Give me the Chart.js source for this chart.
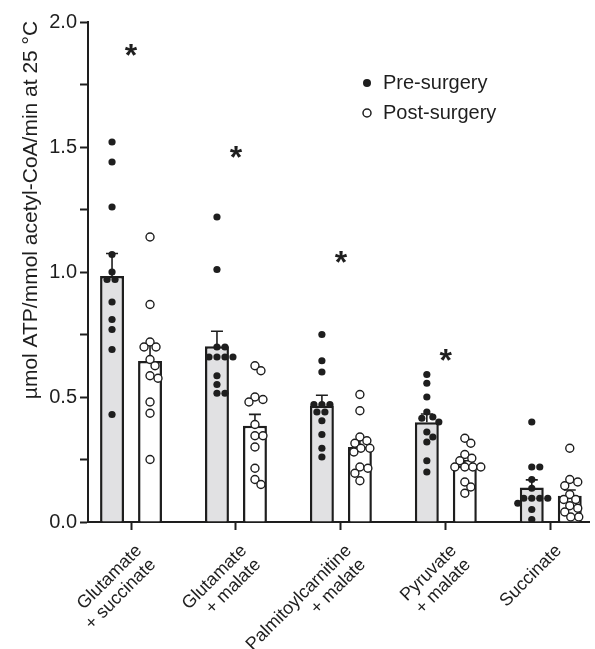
<!DOCTYPE html>
<html>
<head>
<meta charset="utf-8">
<script src="https://cdn.jsdelivr.net/npm/chart.js@4"></script>
<style>
  html, body { margin: 0; padding: 0; background: #fff; }
  #wrap { width: 595px; height: 649px; }
</style>
</head>
<body>
<div id="wrap"><canvas id="atpChart" width="595" height="649"></canvas></div>
<script>
const substrates = [
  ["Glutamate", "+ succinate"],
  ["Glutamate", "+ malate"],
  ["Palmitoylcarnitine", "+ malate"],
  ["Pyruvate", "+ malate"],
  ["Succinate"],
];
// individual subjects, one array per substrate
const preSurgery = [
  [1.52, 1.44, 1.26, 1.07, 1.00, 0.97, 0.97, 0.88, 0.81, 0.77, 0.69, 0.43],
  [1.22, 1.01, 0.70, 0.70, 0.66, 0.66, 0.66, 0.66, 0.585, 0.55, 0.515, 0.515],
  [0.75, 0.645, 0.60, 0.47, 0.47, 0.47, 0.44, 0.44, 0.405, 0.35, 0.295, 0.26],
  [0.59, 0.555, 0.50, 0.44, 0.42, 0.415, 0.40, 0.36, 0.34, 0.32, 0.245, 0.20],
  [0.40, 0.22, 0.22, 0.17, 0.135, 0.095, 0.095, 0.095, 0.095, 0.075, 0.05, 0.01],
];
const postSurgery = [
  [1.14, 0.87, 0.72, 0.70, 0.70, 0.65, 0.625, 0.585, 0.575, 0.48, 0.435, 0.25],
  [0.625, 0.605, 0.50, 0.49, 0.48, 0.39, 0.345, 0.345, 0.30, 0.215, 0.17, 0.15],
  [0.51, 0.445, 0.34, 0.325, 0.315, 0.295, 0.295, 0.28, 0.22, 0.215, 0.195, 0.165],
  [0.335, 0.315, 0.27, 0.255, 0.245, 0.22, 0.22, 0.22, 0.22, 0.16, 0.14, 0.115],
  [0.295, 0.17, 0.16, 0.145, 0.11, 0.09, 0.09, 0.065, 0.055, 0.04, 0.02, 0.02],
];
const starHeights = [1.89, 1.48, 1.06, 0.67, null];
const yTickValues = [0, 0.25, 0.5, 0.75, 1.0, 1.25, 1.5, 1.75, 2.0];
const yTickLabels = ["0.0", "", "0.5", "", "1.0", "", "1.5", "", "2.0"];
const yTitle = "\u00b5mol ATP/mmol acetyl-CoA/min at 25 \u00b0C";

const FONT = "'Liberation Sans', Arial, sans-serif";
const INK = "#1e1e1e";
const catPct = 0.724;
const barPct = 0.63;

function mean(a) {
  return a.reduce((s, v) => s + v, 0) / a.length;
}
function sem(a) {
  const m = mean(a);
  const sd = Math.sqrt(a.reduce((s, v) => s + (v - m) * (v - m), 0) / (a.length - 1));
  return sd / Math.sqrt(a.length);
}

// simple beeswarm: push each dot sideways until it stops overlapping
// (approx. 105 px per category and 250 px per y unit in this layout)
const PX_X = 105;
const PX_Y = 250;
const DOT = 7.8;
function swarm(values, center) {
  const placed = [];
  [...values].sort((a, b) => b - a).forEach((v) => {
    for (let k = 0; k < 80; k++) {
      const off = k === 0 ? 0 : (k % 2 ? 1 : -1) * Math.ceil(k / 2);
      const free = placed.every((p) => Math.hypot(p.dx - off, (p.v - v) * PX_Y) >= DOT);
      if (free) {
        placed.push({ dx: off, v });
        break;
      }
    }
  });
  return placed.map((p) => ({ x: center + p.dx / PX_X, y: p.v }));
}

const side = catPct / 4;
const prePoints = [];
const postPoints = [];
preSurgery.forEach((g, i) => prePoints.push(...swarm(g, i - side)));
postSurgery.forEach((g, i) => postPoints.push(...swarm(g, i + side)));

const preBars = preSurgery.map((g, i) => ({ x: i, y: mean(g) }));
const postBars = postSurgery.map((g, i) => ({ x: i, y: mean(g) }));
const preErr = preSurgery.map(sem);
const postErr = postSurgery.map(sem);

const extrasPlugin = {
  id: "extras",
  afterDatasetDraw(chart, args) {
    const ds = chart.data.datasets[args.index];
    if (!ds.errors) return;
    const ctx = chart.ctx;
    const ys = chart.scales.y;
    ctx.save();
    ctx.strokeStyle = INK;
    ctx.lineWidth = 1.6;
    args.meta.data.forEach((el, i) => {
      const top = ys.getPixelForValue(ds.data[i].y + ds.errors[i]);
      ctx.beginPath();
      ctx.moveTo(el.x, el.y);
      ctx.lineTo(el.x, top);
      ctx.moveTo(el.x - 6, top);
      ctx.lineTo(el.x + 6, top);
      ctx.stroke();
    });
    ctx.restore();
  },
  afterDraw(chart) {
    const ctx = chart.ctx;
    const xs = chart.scales.x;
    const ys = chart.scales.y;
    ctx.save();
    // significance stars
    ctx.fillStyle = INK;
    ctx.font = "bold 32px " + FONT;
    ctx.textAlign = "center";
    ctx.textBaseline = "alphabetic";
    starHeights.forEach((h, i) => {
      if (h === null) return;
      const m = ctx.measureText("*");
      const cy = ys.getPixelForValue(h);
      const off = (m.actualBoundingBoxAscent - m.actualBoundingBoxDescent) / 2;
      ctx.fillText("*", xs.getPixelForValue(i), cy + off);
    });
    // y axis title
    ctx.font = "21px " + FONT;
    ctx.textBaseline = "middle";
    ctx.translate(31, 210);
    ctx.rotate(-Math.PI / 2);
    ctx.fillText(yTitle, 0, 0);
    ctx.setTransform(1, 0, 0, 1, 0, 0);
    // legend
    ctx.font = "20px " + FONT;
    ctx.textAlign = "left";
    ctx.beginPath();
    ctx.arc(367, 83, 4, 0, Math.PI * 2);
    ctx.fill();
    ctx.fillText("Pre-surgery", 383, 83);
    ctx.beginPath();
    ctx.arc(367, 113, 4, 0, Math.PI * 2);
    ctx.lineWidth = 1.5;
    ctx.strokeStyle = INK;
    ctx.stroke();
    ctx.fillText("Post-surgery", 383, 113);
    ctx.restore();
  },
};

new Chart(document.getElementById("atpChart"), {
  type: "bar",
  data: {
    datasets: [
      {
        type: "scatter",
        label: "Pre-surgery",
        data: prePoints,
        order: 0,
        pointRadius: 3.6,
        pointBackgroundColor: INK,
        pointBorderColor: INK,
        pointBorderWidth: 0,
      },
      {
        type: "scatter",
        label: "Post-surgery",
        data: postPoints,
        order: 0,
        pointRadius: 4,
        pointBackgroundColor: "#fff",
        pointBorderColor: INK,
        pointBorderWidth: 1.4,
      },
      {
        label: "Pre mean",
        data: preBars,
        errors: preErr,
        order: 1,
        backgroundColor: "#e1e1e3",
        borderColor: INK,
        borderWidth: 2.5,
        categoryPercentage: catPct,
        barPercentage: barPct,
      },
      {
        label: "Post mean",
        data: postBars,
        errors: postErr,
        order: 1,
        backgroundColor: "#ffffff",
        borderColor: INK,
        borderWidth: 2.5,
        categoryPercentage: catPct,
        barPercentage: barPct,
      },
    ],
  },
  options: {
    responsive: false,
    animation: false,
    layout: { padding: { top: 22, right: 5, left: 0, bottom: 0 } },
    plugins: {
      legend: { display: false },
      tooltip: { enabled: false },
    },
    scales: {
      x: {
        type: "linear",
        offset: false,
        min: -0.41,
        max: 4.37,
        afterBuildTicks: (scale) => {
          scale.ticks = substrates.map((_, i) => ({ value: i }));
        },
        afterFit: (scale) => {
          scale.height = 127;
          scale.paddingLeft = 0;
          scale.paddingRight = 0;
        },
        ticks: {
          autoSkip: false,
          minRotation: 45,
          maxRotation: 45,
          padding: 11,
          labelOffset: 8,
          color: INK,
          font: { family: FONT, size: 18, lineHeight: 1.1 },
          callback: (v) => substrates[v],
        },
        grid: {
          drawOnChartArea: false,
          offset: false,
          tickLength: 8,
          tickWidth: 2,
          color: INK,
        },
        border: { color: INK, width: 2 },
      },
      y: {
        min: 0,
        max: 2,
        afterBuildTicks: (scale) => {
          scale.ticks = yTickValues.map((v) => ({ value: v }));
        },
        afterFit: (scale) => {
          scale.width = 88;
          scale.paddingTop = 0;
          scale.paddingBottom = 0;
        },
        ticks: {
          padding: 3,
          color: INK,
          font: { family: FONT, size: 20 },
          callback: (v) => yTickLabels[yTickValues.indexOf(v)],
        },
        grid: {
          drawOnChartArea: false,
          tickLength: 8,
          tickWidth: 2,
          color: INK,
        },
        border: { color: INK, width: 2 },
      },
    },
  },
  plugins: [extrasPlugin],
});
</script>
</body>
</html>
